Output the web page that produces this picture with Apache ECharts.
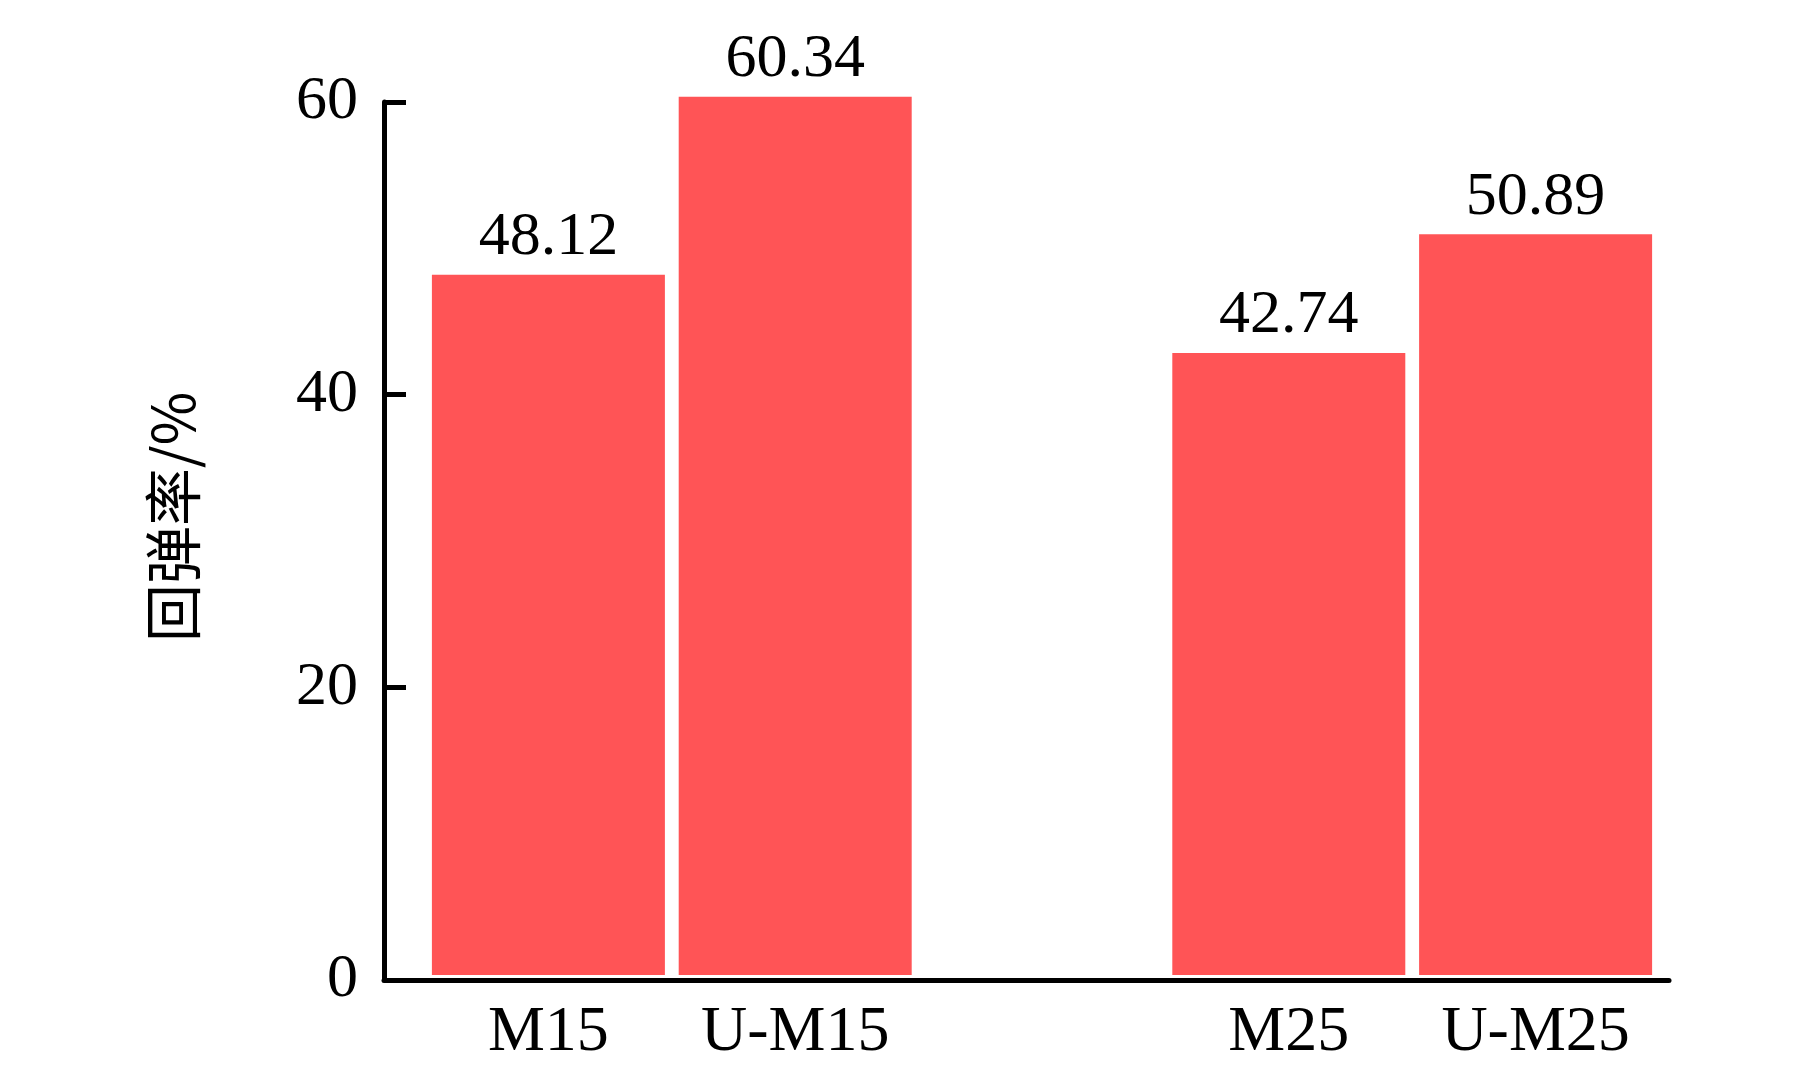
<!DOCTYPE html>
<html>
<head>
<meta charset="utf-8">
<script src="https://cdn.jsdelivr.net/npm/echarts@6/dist/echarts.min.js"></script>
<style>
html,body{margin:0;padding:0;background:#fff;}
#c{width:1819px;height:1065px;}
</style>
</head>
<body>
<div id="c"></div>
<script>
const categories = ['M15', 'U-M15', '', 'M25', 'U-M25'];
const values = [48.12, 60.34, '-', 42.74, 50.89];
const yTicks = [0, 20, 40, 60];
const yName = '回弹率/%';

const serif = '"Liberation Serif", "Times New Roman", serif';
const chart = echarts.init(document.getElementById('c'));
chart.setOption({
  backgroundColor: '#ffffff',
  animation: false,
  grid: [
    {left: 384, right: 150, top: 102, bottom: 85},
    {left: 425, right: 160, top: 43.5, bottom: 85}
  ],
  xAxis: [
    {gridIndex: 0, type: 'value', min: 0, max: 1,
     axisLine: {show: true, onZero: false, lineStyle: {color: '#000', width: 5}},
     axisTick: {show: false}, axisLabel: {show: false}, splitLine: {show: false}},
    {gridIndex: 1, type: 'category', data: categories,
     axisLine: {show: false}, axisTick: {show: false}, splitLine: {show: false},
     axisLabel: {interval: 0, fontFamily: serif, fontSize: 64, color: '#000', margin: 26}}
  ],
  yAxis: [
    {gridIndex: 0, type: 'value', min: yTicks[0], max: yTicks[yTicks.length - 1], interval: 20,
     name: yName, nameLocation: 'middle', nameGap: 182,
     nameTextStyle: {fontFamily: '"Noto Sans CJK SC", serif', fontSize: 58, color: '#000', padding: [0, 0, 0, 48]},
     axisLine: {show: true, lineStyle: {color: '#000', width: 5}},
     axisTick: {show: true, inside: true, length: 22, lineStyle: {color: '#000', width: 5}},
     axisLabel: {fontFamily: serif, fontSize: 62, color: '#000', margin: 26},
     splitLine: {show: false}},
    {gridIndex: 1, type: 'value', min: 0, max: 64, show: false, splitLine: {show: false}}
  ],
  series: [{
    type: 'bar', xAxisIndex: 1, yAxisIndex: 1,
    data: values, barWidth: 233,
    itemStyle: {color: '#FF5456'},
    label: {show: true, position: 'top', distance: 6, fontFamily: serif, fontSize: 62, color: '#000',
            formatter: p => p.value.toFixed(2)}
  }]
});
</script>
</body>
</html>
